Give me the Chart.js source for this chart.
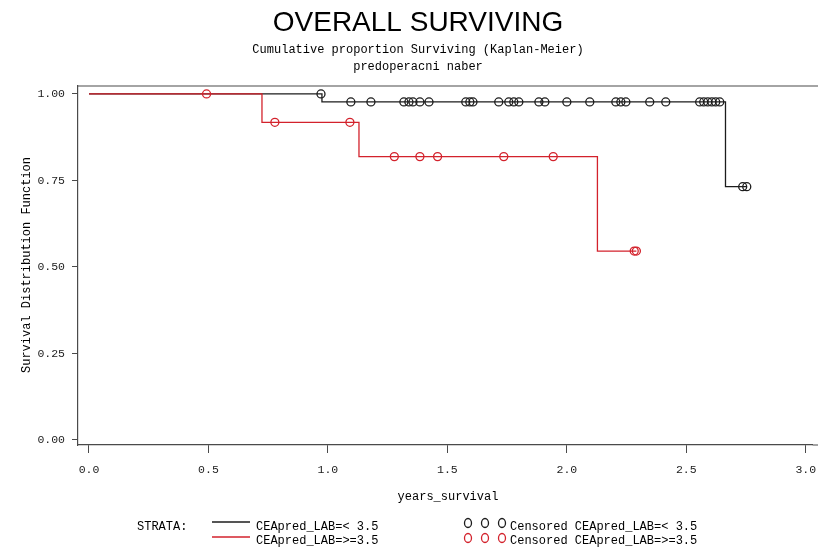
<!DOCTYPE HTML>
<html>
  <head>
    <script src="https://cdn.jsdelivr.net/npm/chart.js"></script>
    <style>
      body { margin: 0; background: #fff; }
    </style>
  </head>
  <body>
    <div style="position: relative; width: 818px; height: 547px;">
      <canvas id="km-chart"></canvas>
    </div>

    <script>
      const xTicks = [0, 0.5, 1.0, 1.5, 2.0, 2.5, 3.0];
      const yTicks = [0, 0.25, 0.5, 0.75, 1.0];

      // Kaplan-Meier steps: CEApred_LAB =< 3.5
      const lowTimes = [0, 0.975, 2.664, 2.753];
      const lowSurv = [1, 0.977, 0.732, 0.732];
      // Kaplan-Meier steps: CEApred_LAB =>= 3.5
      const highTimes = [0, 0.724, 1.130, 2.128, 2.291];
      const highSurv = [1, 0.918, 0.819, 0.546, 0.546];

      // censored observations
      const lowCensTimes = [0.971, 1.096, 1.180, 1.318, 1.339, 1.356, 1.385, 1.423, 1.577, 1.594,
        1.607, 1.715, 1.757, 1.778, 1.799, 1.883, 1.908, 2.000, 2.096, 2.205,
        2.226, 2.247, 2.347, 2.414, 2.556, 2.573, 2.590, 2.607, 2.623, 2.640,
        2.736, 2.753];
      const lowCensSurv = [1, 0.977, 0.977, 0.977, 0.977, 0.977, 0.977, 0.977, 0.977, 0.977,
        0.977, 0.977, 0.977, 0.977, 0.977, 0.977, 0.977, 0.977, 0.977, 0.977,
        0.977, 0.977, 0.977, 0.977, 0.977, 0.977, 0.977, 0.977, 0.977, 0.977,
        0.732, 0.732];
      const highCensTimes = [0.492, 0.778, 1.092, 1.278, 1.385, 1.459, 1.736, 1.943, 2.282, 2.291];
      const highCensSurv = [1, 0.918, 0.918, 0.819, 0.819, 0.819, 0.819, 0.819, 0.546, 0.546];

      const BLACK = '#1c1c1c';
      const RED = '#d3222c';
      const AXIS = '#4a4a4a';
      const MONO = '"Liberation Mono", "DejaVu Sans Mono", monospace';

      function pts(xs, ys) {
        return xs.map(function(x, i) { return {x: x, y: ys[i]}; });
      }

      // titles, frame and the SAS-style legend
      const decor = {
        id: 'decor',
        afterDraw: function(chart) {
          const ctx = chart.ctx;
          const a = chart.chartArea;
          ctx.save();
          ctx.strokeStyle = AXIS;
          ctx.lineWidth = 1.2;
          ctx.beginPath();
          ctx.moveTo(a.left, a.top);
          ctx.lineTo(chart.width, a.top);
          ctx.moveTo(a.right, a.bottom);
          ctx.lineTo(chart.width, a.bottom);
          ctx.stroke();

          ctx.fillStyle = '#000';
          ctx.textAlign = 'center';
          ctx.textBaseline = 'middle';
          ctx.font = '28px "Liberation Sans", Arial, sans-serif';
          ctx.fillText('OVERALL SURVIVING', 418, 23);
          ctx.font = '12px ' + MONO;
          ctx.fillText('Cumulative proportion Surviving (Kaplan-Meier)', 418, 50);
          ctx.fillText('predoperacni naber', 418, 67);
          ctx.fillText('years_survival', 448, 497);

          ctx.save();
          ctx.translate(27, 265);
          ctx.rotate(-Math.PI / 2);
          ctx.fillText('Survival Distribution Function', 0, 0);
          ctx.restore();

          // legend
          ctx.textAlign = 'left';
          ctx.fillText('STRATA:', 137, 527);
          ctx.fillText('CEApred_LAB=< 3.5', 256, 527);
          ctx.fillText('CEApred_LAB=>=3.5', 256, 541);
          ctx.fillText('Censored CEApred_LAB=< 3.5', 510, 527);
          ctx.fillText('Censored CEApred_LAB=>=3.5', 510, 541);

          ctx.lineWidth = 1.3;
          ctx.strokeStyle = BLACK;
          ctx.beginPath(); ctx.moveTo(212, 522); ctx.lineTo(250, 522); ctx.stroke();
          ctx.strokeStyle = RED;
          ctx.beginPath(); ctx.moveTo(212, 537); ctx.lineTo(250, 537); ctx.stroke();

          [468, 485, 502].forEach(function(cx) {
            ctx.strokeStyle = BLACK;
            ctx.beginPath(); ctx.ellipse(cx, 523, 3.5, 4.5, 0, 0, Math.PI * 2); ctx.stroke();
            ctx.strokeStyle = RED;
            ctx.beginPath(); ctx.ellipse(cx, 538, 3.5, 4.5, 0, 0, Math.PI * 2); ctx.stroke();
          });
          ctx.restore();
        }
      };

      const km_context = document.getElementById('km-chart');
      km_chart = new Chart(km_context, {
        type: 'scatter',
        data: {
          datasets: [{
            label: 'CEApred_LAB=>=3.5',
            data: pts(highTimes, highSurv),
            showLine: true,
            stepped: 'before',
            borderColor: RED,
            borderWidth: 1.3,
            pointRadius: 0,
            order: 1
          }, {
            label: 'Censored CEApred_LAB=>=3.5',
            data: pts(highCensTimes, highCensSurv),
            showLine: false,
            borderColor: RED,
            backgroundColor: 'rgba(0,0,0,0)',
            borderWidth: 1.3,
            pointRadius: 4,
            order: 0
          }, {
            label: 'CEApred_LAB=< 3.5',
            data: pts(lowTimes, lowSurv),
            showLine: true,
            stepped: 'before',
            borderColor: BLACK,
            borderWidth: 1.3,
            pointRadius: 0,
            order: 3
          }, {
            label: 'Censored CEApred_LAB=< 3.5',
            data: pts(lowCensTimes, lowCensSurv),
            showLine: false,
            borderColor: BLACK,
            backgroundColor: 'rgba(0,0,0,0)',
            borderWidth: 1.3,
            pointRadius: 4,
            order: 2
          }]
        },
        options: {
          responsive: true,
          maintainAspectRatio: false,
          animation: false,
          layout: { padding: { top: 86, right: 0, bottom: 0, left: 0 } },
          plugins: {
            legend: { display: false },
            tooltip: { enabled: false }
          },
          scales: {
            x: {
              type: 'linear',
              min: -0.046,
              max: 3.029,
              afterFit: function(s) { s.height = 102; s.paddingRight = 0; s.paddingLeft = 0; },
              afterBuildTicks: function(s) { s.ticks = xTicks.map(function(v) { return {value: v}; }); },
              grid: { drawOnChartArea: false, drawTicks: true, tickLength: 8, color: AXIS },
              border: { display: true, color: AXIS, width: 1.2 },
              ticks: {
                padding: 10,
                color: '#222',
                font: { family: MONO, size: 11.5 },
                callback: function(v) { return v.toFixed(1); }
              }
            },
            y: {
              type: 'linear',
              min: -0.0145,
              max: 1.023,
              afterFit: function(s) { s.width = 78; s.paddingTop = 0; s.paddingBottom = 0; },
              afterBuildTicks: function(s) { s.ticks = yTicks.map(function(v) { return {value: v}; }); },
              grid: { drawOnChartArea: false, drawTicks: true, tickLength: 6, color: AXIS },
              border: { display: true, color: AXIS, width: 1.2 },
              ticks: {
                padding: 7,
                color: '#222',
                font: { family: MONO, size: 11.5 },
                callback: function(v) { return v.toFixed(2); }
              }
            }
          }
        },
        plugins: [decor]
      });
    </script>
  </body>
</html>
